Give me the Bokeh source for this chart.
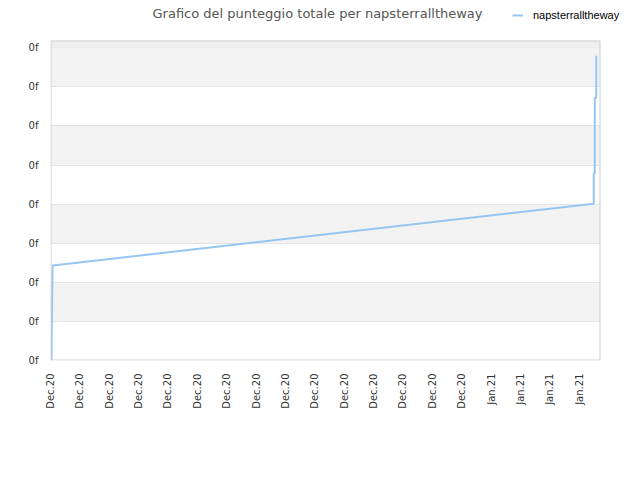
import math
from bokeh.plotting import figure
from bokeh.models import (Range1d, FixedTicker, Legend, LegendItem, BoxAnnotation,
                          ColumnDataSource, Label)
from bokeh.embed import file_html
from bokeh.resources import INLINE

# ---- data (x = days since 3 Dec 2020) ----
player = "napsterralltheway"
days = [0.07, 0.09, 0.14, 36.99, 36.99, 37.06, 37.06, 37.16, 37.16]
scores = [0.00, 1.00, 2.43, 4.01, 4.79, 4.79, 6.72, 6.72, 7.80]

x_ticks = [0, 2, 4, 6, 8, 10, 12, 14, 16, 18, 20, 22, 24, 26, 28, 30, 32, 34, 36]
x_labels = ["Dec.20"] * 15 + ["Jan.21"] * 4
y_ticks = [0, 1, 2, 3, 4, 5, 6, 7, 8]
y_labels = ["0f"] * 9

title_text = "Grafico del punteggio totale per " + player

# visible plot box in data units
X_END = 37.45
Y_END = 8.187
PX_X = X_END / 550   # one pixel in x data units
PX_Y = Y_END / 320   # one pixel in y data units

# the frame extends to the top/right of the canvas so that title & legend can live inside it
p = figure(width=632, height=472, output_backend="svg", toolbar_location=None, title=None,
           x_range=Range1d(0, X_END * 580 / 550), y_range=Range1d(0, Y_END * 360 / 320),
           min_border_left=50, min_border_right=2, min_border_top=0, min_border_bottom=112)

p.background_fill_color = "white"
p.border_fill_color = "white"
p.outline_line_color = None

# axes
for ax in (p.xaxis, p.yaxis):
    ax.axis_line_color = None
    ax.major_tick_line_color = None
    ax.minor_tick_line_color = None
    ax.major_label_text_font = "DejaVu Sans"
    ax.major_label_text_font_size = "10px"
    ax.major_label_text_color = "#333333"

p.xaxis.ticker = FixedTicker(ticks=x_ticks)
p.xaxis.major_label_overrides = {t: l for t, l in zip(x_ticks, x_labels)}
p.xaxis.major_label_orientation = math.pi / 2
p.xaxis.major_label_standoff = 7

p.yaxis.ticker = FixedTicker(ticks=y_ticks)
p.yaxis.major_label_overrides = {t: l for t, l in zip(y_ticks, y_labels)}
p.yaxis.major_label_standoff = 6

p.xgrid.grid_line_color = None
p.ygrid.grid_line_color = "#e3e3e3"
p.ygrid.band_fill_color = "#f3f3f3"
p.ygrid.band_fill_alpha = 1.0

# strip above the last tick
p.add_layout(BoxAnnotation(left=0, right=X_END, bottom=y_ticks[-1], top=Y_END,
                           fill_color="#efefef", fill_alpha=1.0,
                           line_color=None, level="underlay"))
# blank area right of the plot box (keeps grid inside the box)
p.add_layout(BoxAnnotation(left=X_END, fill_color="white", fill_alpha=1.0,
                           line_color=None))
# plot box outline (half-pixel inset for crisp 1px edges)
p.add_layout(BoxAnnotation(left=0.5 * PX_X, right=X_END - 0.5 * PX_X,
                           bottom=0.5 * PX_Y, top=Y_END - 0.5 * PX_Y,
                           fill_alpha=0.0, line_color="#cfcfcf", line_alpha=1.0,
                           line_width=1))

src = ColumnDataSource(dict(x=days, y=scores))
r = p.line("x", "y", source=src, line_color="#95c6f2", line_width=2)

# title
p.add_layout(Label(x=X_END * 267 / 550, y=Y_END + 27.5 / 39.09, text=title_text,
                   text_align="center", text_baseline="middle",
                   text_font="DejaVu Sans", text_font_size="13px", text_color="#555555"))

legend = Legend(items=[LegendItem(label=player, renderers=[r])],
                location=(462, 339), padding=0, margin=0, spacing=0,
                glyph_width=11, glyph_height=12, label_height=12, label_standoff=10,
                label_text_font="Liberation Sans", label_text_font_size="11px",
                label_text_color="#000000", border_line_color=None,
                background_fill_alpha=0.0)
p.add_layout(legend, "center")

open("out.html", "w").write(file_html(p, INLINE))
